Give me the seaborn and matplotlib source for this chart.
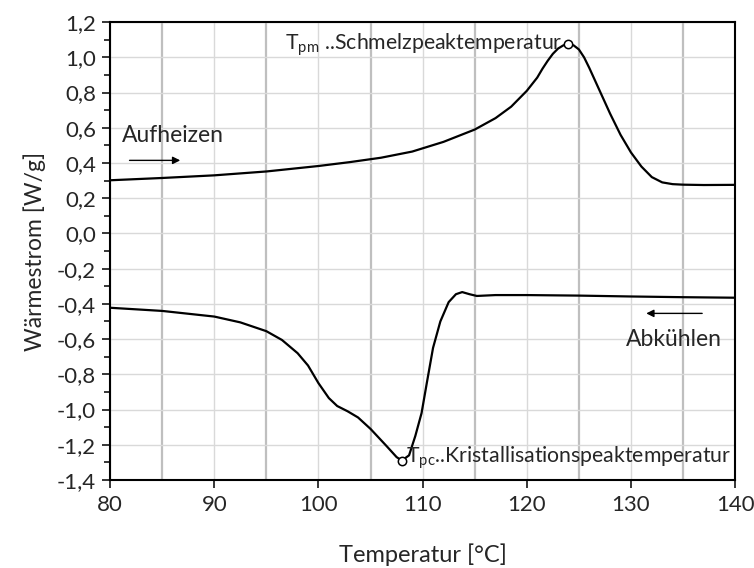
import numpy as np
import pandas as pd
import matplotlib
matplotlib.use("Agg")
import matplotlib.pyplot as plt
from matplotlib.ticker import FuncFormatter, MultipleLocator
import seaborn as sns

# Heating curve (Aufheizen)
heat_T = [80, 85, 90, 95, 100, 103, 106, 109, 112, 115, 117, 118.5, 120, 121, 121.5, 122,
          122.5, 123, 123.5, 124, 124.5, 125, 125.5, 126, 126.5, 127, 128, 129, 130, 131,
          132, 133, 134, 135, 137, 140]
heat_W = [0.302, 0.315, 0.330, 0.352, 0.383, 0.405, 0.430, 0.465, 0.520, 0.590, 0.655,
          0.720, 0.810, 0.885, 0.935, 0.980, 1.020, 1.050, 1.068, 1.075, 1.068, 1.045,
          1.000, 0.940, 0.875, 0.810, 0.680, 0.560, 0.460, 0.380, 0.320, 0.290, 0.280,
          0.277, 0.275, 0.276]

# Cooling curve (Abkühlen)
cool_T = [80, 85, 90, 92.5, 95, 96.5, 98, 99, 100, 101, 101.8, 102.8, 103.8, 105, 106.5,
          107.5, 108, 108.7, 109.3, 109.9, 110.4, 111, 111.7, 112.5, 113.2, 113.8, 114.5,
          115.2, 117, 120, 125, 130, 135, 140]
cool_W = [-0.422, -0.440, -0.472, -0.505, -0.555, -0.605, -0.680, -0.750, -0.850, -0.935,
          -0.980, -1.010, -1.045, -1.110, -1.205, -1.270, -1.290, -1.260, -1.150, -1.020,
          -0.850, -0.650, -0.500, -0.390, -0.345, -0.333, -0.345, -0.355, -0.350, -0.350,
          -0.353, -0.358, -0.362, -0.365]

peak_melt = (124.0, 1.075)
peak_cryst = (108.0, -1.29)

x_ticks = [80, 90, 100, 110, 120, 130, 140]

sns.set_style("white")
plt.rcParams['font.family'] = ['Lato', 'DejaVu Sans']

fig = plt.figure(figsize=(7.54, 5.68), dpi=100)
ax = fig.add_axes([0.146, 0.155, 0.829, 0.806])

heat = pd.DataFrame({"T": heat_T, "W": heat_W})
cool = pd.DataFrame({"T": cool_T, "W": cool_W})
sns.lineplot(data=heat, x="T", y="W", ax=ax, color="black", lw=1.6, sort=False, estimator=None, zorder=3)
sns.lineplot(data=cool, x="T", y="W", ax=ax, color="black", lw=1.6, sort=False, estimator=None, zorder=3)

ax.plot([peak_melt[0]], [peak_melt[1]], 'o', mfc='white', mec='black', ms=6, mew=1.1, zorder=4)
ax.plot([peak_cryst[0]], [peak_cryst[1]], 'o', mfc='white', mec='black', ms=6, mew=1.1, zorder=4)

ax.set_xlim(80, 140)
ax.set_ylim(-1.4, 1.2)
ax.set_xticks(x_ticks)
ax.xaxis.set_minor_locator(MultipleLocator(5))
ax.yaxis.set_major_locator(MultipleLocator(0.2))
ax.yaxis.set_minor_locator(MultipleLocator(0.1))
ax.yaxis.set_major_formatter(FuncFormatter(lambda v, p: f"{v:.1f}".replace('.', ',').replace('-0,0', '0,0')))

ax.grid(which='major', axis='both', color='#d9d9d9', lw=1.0, zorder=0)
ax.grid(which='minor', axis='x', color='#bfbfbf', lw=1.6, zorder=0)
ax.set_axisbelow(True)

ax.tick_params(axis='x', which='major', direction='out', length=6, width=1.3, labelsize=16, bottom=True, pad=5)
ax.tick_params(axis='x', which='minor', length=0)
ax.tick_params(axis='y', which='major', direction='out', length=6, width=1.3, labelsize=16, left=True, pad=4)
ax.tick_params(axis='y', which='minor', direction='out', length=4, width=1.3, left=True)
for s in ax.spines.values():
    s.set_color('black')
    s.set_linewidth(1.5)

ax.set_xlabel("Temperatur [°C]", fontsize=17, labelpad=20)
ax.set_ylabel("Wärmestrom [W/g]", fontsize=16.5, labelpad=8)

# annotations
ax.text(123.4, 1.075, r"T$_{\mathregular{pm}}$ ..Schmelzpeaktemperatur", ha='right', va='center', fontsize=15.3)
ax.text(108.4, -1.275, r"T$_{\mathregular{pc}}$..Kristallisationspeaktemperatur", ha='left', va='center', fontsize=15.3)

ax.text(81.1, 0.558, "Aufheizen", ha='left', va='center', fontsize=16.5)
ax.annotate("", xy=(87.0, 0.415), xytext=(81.6, 0.415),
            arrowprops=dict(arrowstyle='-|>', color='black', lw=1.0, mutation_scale=11))
ax.text(138.7, -0.605, "Abkühlen", ha='right', va='center', fontsize=16.5)
ax.annotate("", xy=(131.2, -0.454), xytext=(137.1, -0.454),
            arrowprops=dict(arrowstyle='-|>', color='black', lw=1.0, mutation_scale=11))

fig.savefig("out.png", dpi=100)
